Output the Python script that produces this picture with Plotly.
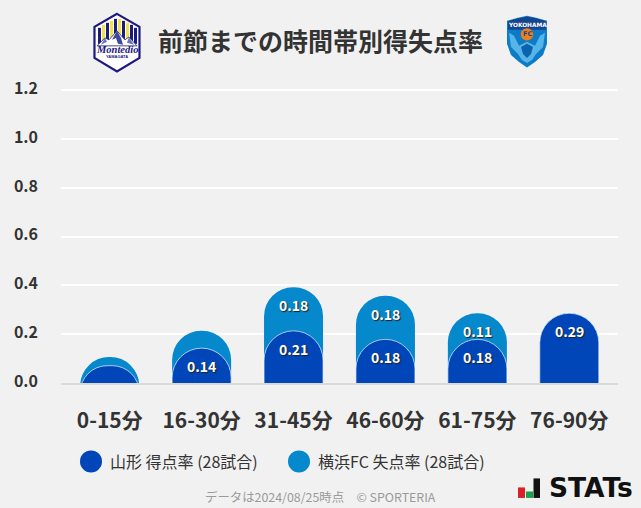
import plotly.graph_objects as go

categories = ["0-15分", "16-30分", "31-45分", "46-60分", "61-75分", "76-90分"]
home_rate = [0.071, 0.143, 0.214, 0.179, 0.179, 0.286]
away_rate = [0.036, 0.071, 0.179, 0.179, 0.107, 0.0]
y_ticks = [0.0, 0.2, 0.4, 0.6, 0.8, 1.0, 1.2]
home_name = "山形 得点率 (28試合)"
away_name = "横浜FC 失点率 (28試合)"
title_text = "前節までの時間帯別得失点率"
footer_text = "データは2024/08/25時点　© SPORTERIA"

W, H = 641, 508
Y_MAX = 1.21
L, R, T, B = 61, 618, 88.07, 382.7
JP = "Noto Sans CJK JP"
DARK = "#333333"
HOME = "#0046b9"
AWAY = "#0588cc"
NAVY = "#1d1a7e"
MIN_LABEL = 0.1
# bars start below the visible axis so that short bars keep the full round cap when clipped at zero
HIDDEN_BASE = -0.15


def px(x):
    return (x - L) / (R - L)


def py(y):
    return (B - y) / (B - T)


def path(points, close=True):
    s = "M" + " L".join(f"{px(x):.4f},{py(y):.4f}" for x, y in points)
    return s + (" Z" if close else "")


def add_poly(shapes, points, fill, line=None, lw=0):
    shapes.append(dict(type="path", xref="paper", yref="paper", path=path(points),
                       fillcolor=fill, line=dict(color=line or fill, width=lw), layer="above"))


def add_rect(shapes, x0, y0, x1, y1, fill):
    shapes.append(dict(type="rect", xref="paper", yref="paper", x0=px(x0), x1=px(x1),
                       y0=py(y1), y1=py(y0), fillcolor=fill, line=dict(width=0), layer="above"))


def add_circle(shapes, cx, cy, r, fill):
    shapes.append(dict(type="circle", xref="paper", yref="paper", x0=px(cx - r), x1=px(cx + r),
                       y0=py(cy + r), y1=py(cy - r), fillcolor=fill, line=dict(width=0), layer="above"))


def note(x, y, text, size, color=DARK, bold=False, anchor="center", family=JP):
    return dict(xref="paper", yref="paper", x=px(x), y=py(y), text=f"<b>{text}</b>" if bold else text,
                showarrow=False, xanchor=anchor, yanchor="middle", align=anchor,
                font=dict(size=size, color=color, family=family))


totals = [round(a + b, 3) for a, b in zip(home_rate, away_rate)]

fig = go.Figure()
fig.add_bar(x=categories, y=[v - HIDDEN_BASE for v in totals], base=HIDDEN_BASE, name=away_name,
            marker=dict(color=AWAY, cornerradius="50%", line=dict(width=0)),
            width=0.642, hoverinfo="skip", xaxis="x", yaxis="y")
fig.add_bar(x=categories, y=[v - HIDDEN_BASE for v in home_rate], base=HIDDEN_BASE, name=home_name,
            marker=dict(color=HOME, cornerradius="50%", line=dict(color="rgba(255,255,255,0.65)", width=1)),
            width=0.642, hoverinfo="skip", xaxis="x", yaxis="y2")

annotations = []
for cat, h, a, t in zip(categories, home_rate, away_rate, totals):
    for val, top in ((h, h), (a, t)):
        if val >= MIN_LABEL:
            annotations.append(dict(x=cat, y=top, xref="x", yref="y", yshift=-18, showarrow=False,
                                    text=f"<b>{val:.2f}</b>", yanchor="middle",
                                    font=dict(size=14, color="white", family=JP, shadow="1px 1px 1px #222")))

shapes = []

# Montedio badge
add_poly(shapes, [(117, 14), (139.5, 27), (139.5, 58), (117, 71.5), (94.5, 58), (94.5, 27)], "white", NAVY, 2.2)
stripes = [(98, 28, NAVY), (102, 25, "#f2e24a"), (106, 23, NAVY), (110, 21, "#f2e24a"), (114, 19, NAVY),
           (118, 19, "#f2e24a"), (122, 21, NAVY), (126, 23, "#f2e24a"), (130, 25, NAVY), (134, 28, NAVY)]
for xs, top, color in stripes:
    add_rect(shapes, xs, top, xs + 3, 44, color)
add_poly(shapes, [(97, 46), (105, 38), (109, 40), (117, 31), (125, 40), (129, 37), (137, 46)], "white", NAVY, 0.8)
add_poly(shapes, [(117, 31), (112, 40), (116, 38), (118, 44), (123, 45), (121, 38)], "#3c4a9c")
add_poly(shapes, [(105, 38), (101, 45), (107, 42)], "#6a76b6")
add_poly(shapes, [(129, 37), (127, 43), (134, 45)], "#6a76b6")

# Yokohama FC badge
add_poly(shapes, [(507, 21), (518, 18), (527, 16), (536, 18), (547, 21), (547, 44), (543, 55), (535, 62),
                  (527, 67.5), (519, 62), (511, 55), (507, 44)], "#0d7cc6")
add_poly(shapes, [(508, 21.5), (518, 18.5), (527, 17), (536, 18.5), (546, 21.5), (546, 30), (508, 30)], "#16458f")
add_poly(shapes, [(509, 33), (514, 36), (519, 46), (527, 42), (535, 46), (540, 36), (545, 33), (543, 47),
                  (536, 54), (532, 60), (527, 63), (522, 60), (518, 54), (511, 47)], "#55b4e8")
add_poly(shapes, [(521, 47), (527, 44), (533, 47), (531, 54), (527, 58), (523, 54)], "#0c62ac")
add_circle(shapes, 527, 34.5, 6.2, "#f07f1a")

# Legend dots
add_circle(shapes, 91, 461, 11, HOME)
add_circle(shapes, 299, 461, 11, AWAY)

# STATS mark
add_rect(shapes, 518, 487, 525, 497.5, "#d92128")
add_rect(shapes, 526, 491, 533, 497.5, "#17a34a")
add_rect(shapes, 533.5, 478, 540, 497.5, "#111111")

annotations += [
    note(320.5, 40.5, title_text, 25, bold=True),
    note(108, 460.5, home_name, 16, anchor="left"),
    note(315.5, 460.5, away_name, 16, anchor="left"),
    note(320.5, 497, footer_text, 12.4, color="#9a9a9a"),
    note(590.5, 487.5, "STATs", 26.5, color="#111111", bold=True, family="DejaVu Sans"),
    note(117, 50, "<i>Montedio</i>", 10.5, color=NAVY, bold=True, family="Liberation Serif"),
    note(117, 57, "YAMAGATA", 4, color=NAVY, bold=True, family="Liberation Sans"),
    note(527, 25.5, "YOKOHAMA", 5.8, color="white", bold=True, family="DejaVu Sans"),
    note(527, 34.5, "FC", 6.5, color="#16458f", bold=True, family="DejaVu Sans"),
]

fig.update_layout(
    width=W, height=H, barmode="overlay", showlegend=False, autosize=False,
    paper_bgcolor="#f1f1f1", plot_bgcolor="#f1f1f1",
    margin=dict(l=L, r=W - R, t=T, b=H - B, pad=0),
    font=dict(family=JP, color=DARK),
    shapes=shapes, annotations=annotations,
    xaxis=dict(range=[-0.53, 5.53], tickmode="array", tickvals=categories, ticktext=categories,
               tickfont=dict(size=21, family=JP, color=DARK, weight="bold"),
               ticks="", ticklabelstandoff=18, showgrid=False,
               showline=True, linecolor="#d9d9d9", linewidth=2, zeroline=False, fixedrange=True),
    yaxis=dict(range=[0, Y_MAX], tickmode="array", tickvals=y_ticks, ticktext=[f"{v:.1f}" for v in y_ticks],
               tickfont=dict(size=16, family=JP, color=DARK, weight="bold"),
               ticks="", ticklabelstandoff=22, ticklabelshift=-2, showgrid=True, gridcolor="white", gridwidth=2,
               zeroline=False, showline=False, fixedrange=True),
    yaxis2=dict(range=[0, Y_MAX], overlaying="y", visible=False, fixedrange=True),
)

fig.write_html("out.html", config=dict(displayModeBar=False),
               post_script="document.body.style.margin='0';document.documentElement.style.overflow='hidden';")
